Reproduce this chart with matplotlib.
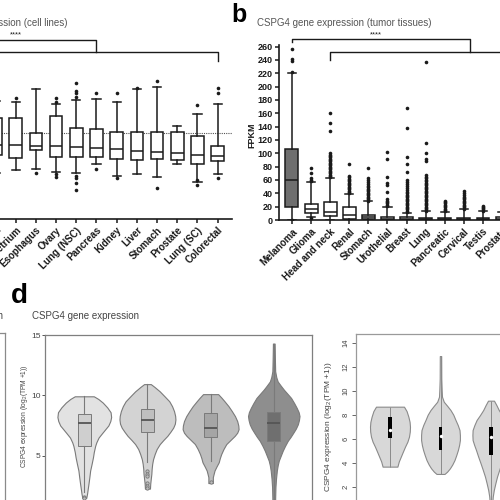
import numpy as np
import matplotlib.pyplot as plt

plt.rcParams['font.family'] = ['Liberation Sans', 'DejaVu Sans']
plt.rcParams['mathtext.fontset'] = 'custom'
plt.rcParams['mathtext.rm'] = 'Liberation Sans'

# ---------------- panel a : cell lines ----------------
cell_lines = ["Urinary tract", "Endometrium", "Esophagus", "Ovary", "Lung (NSC)", "Pancreas",
              "Kidney", "Liver", "Stomach", "Prostate", "Lung (SC)", "Colorectal"]
a_q1 = [4.00, 3.83, 4.29, 3.89, 3.86, 3.86, 3.73, 3.69, 3.73, 3.69, 3.44, 3.63]
a_med = [4.62, 4.62, 4.56, 4.58, 4.52, 4.42, 4.38, 4.25, 4.21, 4.10, 4.00, 3.96]
a_q3 = [6.29, 6.29, 5.39, 6.46, 5.67, 5.60, 5.44, 5.42, 5.42, 5.46, 5.19, 4.58]
a_lo = [2.90, 3.06, 3.13, 2.96, 2.86, 3.42, 2.69, 2.81, 2.64, 3.42, 2.33, 2.79]
a_hi = [7.40, 7.29, 8.11, 7.17, 7.44, 7.50, 7.33, 8.13, 8.23, 5.81, 6.54, 7.17]
a_fliers = [[], [7.54], [2.86], [7.30, 7.54, 2.80, 2.64],
            [7.60, 7.86, 8.02, 8.48, 2.70, 2.54, 2.23, 1.81], [7.86, 3.13], [7.86, 2.54],
            [8.20], [8.64, 1.92], [], [7.13, 2.45, 2.13], [7.86, 8.20, 2.54]]
a_cutoff = 5.375

# ---------------- panel b : tumor tissues (FPKM) ----------------
tissues = ["Melanoma", "Glioma", "Head and neck", "Renal", "Stomach", "Urothelial",
           "Breast", "Lung", "Pancreatic", "Cervical", "Testis", "Prostate"]
b_q1 = [20, 10, 6, 2, 2, 0.5, 0.5, 0.5, 0.5, 0.5, 0.5, 0.5]
b_med = [60, 16, 12.5, 8, 4.5, 2, 2, 1.5, 1.5, 1, 1.5, 2]
b_q3 = [106, 24, 26.5, 20, 7, 4.5, 4.5, 3.5, 3, 2.5, 3, 4]
b_lo = [0, 5, 0, 0, 0, 0, 0, 0, 0, 0, 0, 0]
b_hi = [221, 57.5, 62.5, 38.5, 28, 20, 11, 13, 12, 16, 13, 12]
b_fliers = [
    [0.5, 222, 238, 241, 256],
    [3.5, 58, 60, 63, 70, 77.5],
    [64, 66, 68, 70, 72, 74, 76, 78, 80, 82, 84, 86, 88, 90, 92, 94, 96, 98, 100, 134, 145, 161],
    [40, 42, 44, 46, 48, 50, 52, 54, 56, 58, 60, 62, 64, 66, 84],
    [29, 31, 33, 35, 37, 39, 41, 43, 45, 47, 49, 51, 54, 57, 60, 63, 78.5],
    [21, 23, 25, 27, 29, 31, 41.5, 52, 55, 64, 91, 102.5],
    [12, 14, 16, 18, 20, 22, 24, 26, 28, 30, 32, 34, 36, 38, 40, 42, 45, 48, 51, 54, 57, 60,
     72, 83.5, 95, 137.5, 168.5],
    [14, 16, 18, 20, 22, 24, 26, 28, 30, 32, 34, 36, 38, 40, 42, 44, 46, 48, 50, 52, 54, 56,
     58, 60, 63, 65, 68, 89, 91, 100, 116, 237.5],
    [13, 15, 17, 19, 21, 23, 25, 27, 29],
    [17, 19, 21, 23, 25, 27, 29, 31, 33, 35, 38, 41, 44],
    [14, 16, 18, 20, 21.5],
    [13, 15, 17, 19],
]

# ---------------- panel d : violins, log2(TPM+1) ----------------
d_levels = [
    [9.92, 9.7, 9.4, 9.0, 8.6, 8.2, 7.87, 7.5, 7.19, 6.85, 6.5, 6.1, 5.82, 5.3, 4.86, 4.3,
     3.77, 3.2, 2.68, 2.2, 1.86, 1.5],
    [10.93, 10.7, 10.33, 9.9, 9.51, 9.1, 8.69, 8.3, 8.0, 7.65, 7.32, 6.98, 6.64, 6.3, 5.96,
     5.55, 5.14, 4.7, 4.32, 3.9, 3.5, 3.1, 2.68, 2.27],
    [10.1, 9.8, 9.5, 9.1, 8.69, 8.28, 7.87, 7.5, 7.19, 6.9, 6.64, 6.3, 5.96, 5.55, 5.14, 4.8,
     4.45, 4.1, 3.77, 3.5, 3.22, 2.73],
    [14.29, 13.0, 12.0, 11.5, 11.15, 10.8, 10.47, 10.1, 9.78, 9.35, 8.96, 8.6, 8.28, 7.95,
     7.6, 7.25, 6.91, 6.55, 6.23, 5.8, 5.41, 5.0, 4.59, 4.2, 3.77, 3.1, 2.4, 1.5, 0.5, -0.3],
]
d_density = [
    [0.34, 0.50, 0.66, 0.82, 0.94, 0.96, 0.93, 0.86, 0.75, 0.63, 0.51, 0.43, 0.39, 0.34,
     0.31, 0.26, 0.21, 0.18, 0.15, 0.12, 0.10, 0.07],
    [0.12, 0.25, 0.44, 0.62, 0.78, 0.88, 0.95, 0.99, 1.0, 0.98, 0.92, 0.82, 0.71, 0.57, 0.44,
     0.33, 0.26, 0.20, 0.17, 0.15, 0.14, 0.12, 0.10, 0.09],
    [0.27, 0.39, 0.50, 0.64, 0.76, 0.87, 0.95, 0.99, 1.0, 0.95, 0.86, 0.71, 0.56, 0.46, 0.38,
     0.33, 0.29, 0.21, 0.14, 0.11, 0.08, 0.08],
    [0.03, 0.04, 0.05, 0.09, 0.14, 0.25, 0.36, 0.50, 0.62, 0.73, 0.82, 0.89, 0.92, 0.90,
     0.86, 0.79, 0.70, 0.60, 0.50, 0.40, 0.32, 0.25, 0.18, 0.14, 0.11, 0.08, 0.06, 0.05,
     0.05, 0.04],
]
d_q1 = [5.82, 6.97, 6.58, 6.23]
d_med = [7.68, 7.92, 7.32, 7.68]
d_q3 = [8.47, 8.83, 8.50, 8.61]
d_lo = [2.0, 4.5, 4.6, -0.3]
d_hi = [9.92, 10.93, 10.1, 14.29]
d_fliers = [[1.6, 1.5], [3.7, 3.5, 3.3, 2.7, 2.45, 2.3], [2.8], []]

# ---------------- right panel : vioplot ----------------
e_levels = [
    [8.67, 8.3, 7.83, 7.4, 7.0, 6.6, 6.17, 5.75, 5.33, 4.9, 4.5, 4.1, 3.67],
    [12.89, 11.0, 10.0, 9.5, 9.08, 8.75, 8.39, 8.0, 7.56, 7.15, 6.72, 6.3, 5.89, 5.47, 5.06,
     4.64, 4.22, 3.85, 3.53, 3.25, 3.06],
    [9.17, 8.8, 8.39, 7.97, 7.56, 7.14, 6.72, 6.3, 5.89, 5.47, 5.06, 4.5, 3.94, 3.4, 2.83,
     2.3, 1.72, 1.2, 0.6, -0.5],
]
e_density = [
    [0.70, 0.83, 0.92, 0.98, 1.0, 0.99, 0.95, 0.87, 0.75, 0.64, 0.54, 0.44, 0.37],
    [0.035, 0.04, 0.06, 0.075, 0.165, 0.33, 0.5, 0.64, 0.75, 0.86, 0.95, 0.97, 0.97, 0.93,
     0.87, 0.79, 0.70, 0.59, 0.47, 0.33, 0.2],
    [0.15, 0.27, 0.39, 0.55, 0.72, 0.83, 0.92, 0.93, 0.92, 0.84, 0.75, 0.64, 0.52, 0.41,
     0.30, 0.22, 0.14, 0.09, 0.06, 0.05],
]
e_q1 = [6.03, 5.06, 4.64]
e_med = [6.72, 6.22, 6.11]
e_q3 = [7.78, 7.0, 7.0]

W = 500.0


def rect(x0, ytop, x1, ybot):
    # pixel box (top-left origin) -> figure fraction
    return [x0 / W, 1 - ybot / W, (x1 - x0) / W, (ybot - ytop) / W]


def fx(x, y):
    return x / W, 1 - y / W


def stats(q1, med, q3, lo, hi, fl):
    return [dict(q1=a, med=b, q3=c, whislo=d, whishi=e, fliers=f)
            for a, b, c, d, e, f in zip(q1, med, q3, lo, hi, fl)]


fig = plt.figure(figsize=(5, 5), dpi=100)
ink = "#1a1a1a"
bold = dict(fontsize=7, fontweight="bold", color=ink)


def prism_box(ax, st, width, capw, fill=None):
    res = ax.bxp(st, positions=range(len(st)), widths=width, capwidths=capw,
                 patch_artist=True,
                 boxprops=dict(facecolor="white", edgecolor=ink, lw=1.1),
                 whiskerprops=dict(color=ink, lw=1.1),
                 capprops=dict(color=ink, lw=1.1),
                 medianprops=dict(color=ink, lw=1.1),
                 flierprops=dict(marker="o", ms=2.6, mfc=ink, mec="none"))
    if fill:
        for i, c in fill.items():
            res["boxes"][i].set_facecolor(c)
    for s in ["top", "right", "left"]:
        ax.spines[s].set_visible(False)
    ax.spines["bottom"].set_linewidth(1.2)
    ax.spines["bottom"].set_color(ink)
    return res


# ---- panel a
ax_a = fig.add_axes(rect(-75.2, 59, 231.8, 219))
prism_box(ax_a, stats(a_q1, a_med, a_q3, a_lo, a_hi, a_fliers), 0.62, 0.4)
ax_a.axhline(a_cutoff, color="#555555", lw=0.8, ls=(0, (1, 1)), zorder=0)
ax_a.set_xlim(-3.5, 11.7)
ax_a.set_ylim(0, 10)
ax_a.set_yticks([])
ax_a.set_xticks(range(len(cell_lines)))
ax_a.set_xticklabels(cell_lines, rotation=45, ha="right", rotation_mode="anchor", **bold)
ax_a.tick_params(axis="x", length=3, width=1.1, color=ink, pad=1.5)
ax_a.plot([-3, -3, 5, 5], [10.95, 11.19, 11.19, 10.42], color=ink, lw=1, clip_on=False)
ax_a.plot([-1, -1, 11, 11], [9.88, 10.42, 10.42, 9.88], color=ink, lw=1, clip_on=False)
ax_a.text(1.0, 11.3, "****", ha="center", va="bottom", fontsize=5.5, color=ink)

# ---- panel b
ax_b = fig.add_axes(rect(279, 45.3, 521.2, 220))
prism_box(ax_b, stats(b_q1, b_med, b_q3, b_lo, b_hi, b_fliers), 0.68, 0.42,
          fill={0: "#6e6e6e"})
ax_b.spines["left"].set_visible(True)
ax_b.spines["left"].set_linewidth(1.2)
ax_b.spines["left"].set_color(ink)
ax_b.set_xlim(-0.68, 12)
ax_b.set_ylim(0, 262)
ax_b.set_yticks(range(0, 261, 20))
ax_b.set_yticklabels([str(v) for v in range(0, 261, 20)], fontsize=6.5, fontweight="bold",
                     color=ink)
ax_b.set_xticks(range(len(tissues)))
ax_b.set_xticklabels(tissues, rotation=45, ha="right", rotation_mode="anchor", **bold)
ax_b.tick_params(length=3, width=1.1, color=ink, pad=1.5)
ax_b.plot([0, 0, 9.32, 9.32], [266.5, 271, 271, 252.5], color=ink, lw=1, clip_on=False)
ax_b.plot([2, 2, 16.6], [240, 252.5, 252.5], color=ink, lw=1, clip_on=False)
ax_b.text(4.4, 273, "****", ha="center", va="bottom", fontsize=5.5, color=ink)

fig.text(*fx(252, 135), "FPKM", rotation=90, ha="center", va="center", fontsize=6.5,
         fontweight="bold", color=ink)
fig.text(*fx(68, 23), "CSPG4 gene expression (cell lines)", ha="right", va="center",
         fontsize=7, color="#555555")
fig.text(*fx(257, 23), "CSPG4 gene expression (tumor tissues)", ha="left", va="center",
         fontsize=7, color="#555555")
fig.text(*fx(231, 22), "b", fontsize=18, fontweight="bold", color="black", ha="left",
         va="baseline")

# ---- panel c (only its right edge is inside the crop)
ax_c = fig.add_axes(rect(-150, 333, 5, 520))
ax_c.set_xticks([])
ax_c.set_yticks([])
for s in ax_c.spines.values():
    s.set_color("#8a8a8a")
    s.set_linewidth(0.9)
fig.text(*fx(3.5, 316), "CSPG4 gene expression", ha="right", va="center", fontsize=7,
         color="#444444")

# ---- panel d
ax_d = fig.add_axes(rect(45, 335, 312.3, 520))
d_face = ["#e2e2e2", "#d3d3d3", "#bdbdbd", "#8e8e8e"]
d_boxface = ["#cfcfcf", "#bfbfbf", "#a5a5a5", "#6f6f6f"]
d_edge = "#7a7a7a"
for i, (lv, dn) in enumerate(zip(d_levels, d_density)):
    lv = np.array(lv)
    dn = np.array(dn) * 0.443
    ax_d.fill_betweenx(lv, i - dn, i + dn, facecolor=d_face[i], edgecolor=d_edge, lw=0.8,
                       zorder=1)
res = ax_d.bxp(stats(d_q1, d_med, d_q3, d_lo, d_hi, d_fliers), positions=range(4),
               widths=0.2, showcaps=False, patch_artist=True,
               boxprops=dict(edgecolor=d_edge, lw=0.7),
               whiskerprops=dict(color=d_edge, lw=0.8),
               medianprops=dict(color="#555555", lw=1.3),
               flierprops=dict(marker="o", ms=2.4, mfc="#bbbbbb", mec="#777777", mew=0.6),
               zorder=2)
for b, c in zip(res["boxes"], d_boxface):
    b.set_facecolor(c)
ax_d.set_xlim(-0.622, 3.61)
ax_d.set_ylim(-0.33, 15)
ax_d.set_xticks([])
ax_d.set_yticks([5, 10, 15])
ax_d.tick_params(axis="y", length=2, width=0.7, color="#555555", labelsize=6,
                 labelcolor="#444444", pad=1)
for s in ax_d.spines.values():
    s.set_color("#7f7f7f")
    s.set_linewidth(0.9)
fig.text(*fx(25, 416), r"CSPG4 expression (log$_2$(TPM +1))", rotation=90, ha="center",
         va="center", fontsize=4.8, color="#444444")
fig.text(*fx(32, 316), "CSPG4 gene expression", ha="left", va="center", fontsize=7,
         color="#444444")
fig.text(*fx(11, 303), "d", fontsize=20, fontweight="bold", color="black", ha="left",
         va="baseline")

# ---- right panel
ax_e = fig.add_axes(rect(356, 334, 520, 520))
for i, (lv, dn) in enumerate(zip(e_levels, e_density)):
    lv = np.array(lv)
    dn = np.array(dn) * 0.396
    ax_e.fill_betweenx(lv, i - dn, i + dn, facecolor="#d8d8d8", edgecolor="#8a8a8a", lw=0.8,
                       zorder=1)
    ax_e.vlines(i, lv.min(), lv.max(), color="#8a8a8a", lw=0.7, zorder=2)
ax_e.bar(range(3), np.array(e_q3) - np.array(e_q1), bottom=e_q1, width=0.07, color="black",
         zorder=3)
ax_e.scatter(range(3), e_med, s=6, color="white", zorder=4, linewidths=0)
ax_e.set_xlim(-0.673, 2.574)
ax_e.set_ylim(-0.78, 14.73)
ax_e.set_xticks([])
ax_e.set_yticks(range(2, 15, 2))
ax_e.tick_params(axis="y", length=3, width=0.7, color="#666666", labelsize=5.5,
                 labelcolor="#444444", labelrotation=90, pad=1.5)
for t in ax_e.get_yticklabels():
    t.set_va("center")
for s in ax_e.spines.values():
    s.set_color("#9a9a9a")
    s.set_linewidth(0.9)
fig.text(*fx(329, 427), r"CSPG4 expression (log$_2$(TPM +1))", rotation=90, ha="center",
         va="center", fontsize=6, color="#444444")

fig.savefig("out.png", dpi=100)
